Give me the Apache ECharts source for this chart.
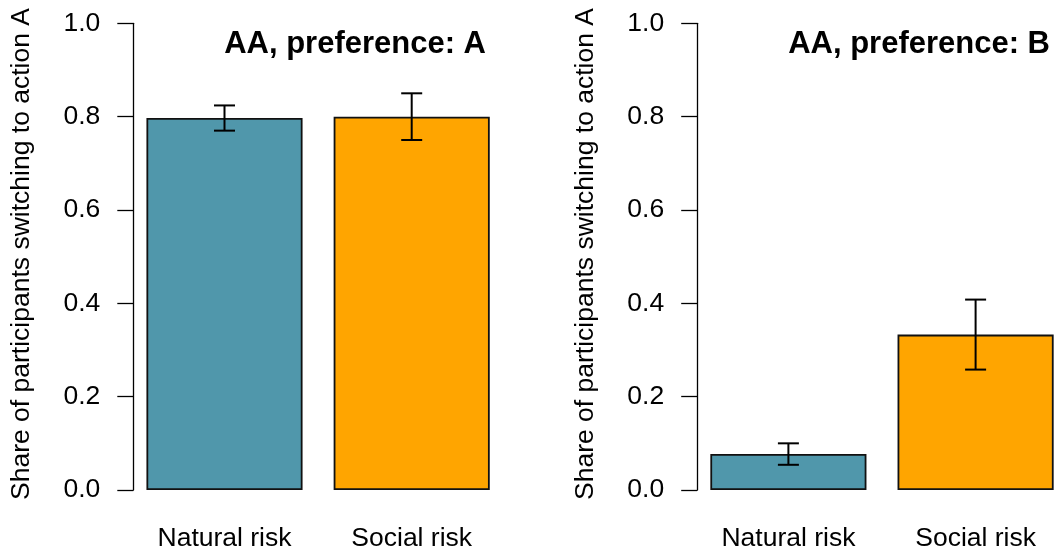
<!DOCTYPE html>
<html>
<head>
<meta charset="utf-8">
<script src="https://cdn.jsdelivr.net/npm/echarts@6/dist/echarts.min.js"></script>
<style>
html,body{margin:0;padding:0;background:#fff;overflow:hidden;width:1054px;height:552px;}
#c{width:1080px;height:552px;}
</style>
</head>
<body>
<div id="c"></div>
<script>
const categories = ['Natural risk', 'Social risk'];
const panelTitles = ['AA, preference: A', 'AA, preference: B'];
const yLabel = 'Share of participants switching to action A';
const valuesA = [0.797, 0.800];
const lowerA = [0.770, 0.750];
const upperA = [0.824, 0.850];
const valuesB = [0.077, 0.333];
const lowerB = [0.054, 0.258];
const upperB = [0.100, 0.408];
const barColors = ['#5097AB', '#FFA500'];
const yTicks = [0, 0.2, 0.4, 0.6, 0.8, 1.0];

const FONT = '"Liberation Sans", Arial, Helvetica, sans-serif';
const FS = 26.5;

const chart = echarts.init(document.getElementById('c'), null, {renderer: 'canvas'});

const grids = [
  {left: 130.9, top: 23.3, width: 374.4, height: 466.7},
  {left: 694.8, top: 23.3, width: 374.4, height: 466.7}
];

function xAxisFor(i) {
  return {
    type: 'category', gridIndex: i, data: categories,
    axisLine: {show: false}, axisTick: {show: false},
    axisLabel: {fontFamily: FONT, fontSize: FS, color: '#000', margin: 35}
  };
}
function yAxisFor(i) {
  return {
    type: 'value', gridIndex: i, min: yTicks[0], max: yTicks[yTicks.length - 1],
    interval: yTicks[1] - yTicks[0], offset: -2.4,
    splitLine: {show: false},
    axisLine: {show: true, lineStyle: {color: '#000', width: 1.3}},
    axisTick: {show: true, length: 16, lineStyle: {color: '#000', width: 1.3}},
    axisLabel: {fontFamily: FONT, fontSize: FS, color: '#000', margin: 33,
      formatter: v => v.toFixed(1)}
  };
}

function barSeries(i, vals) {
  return {
    type: 'bar', xAxisIndex: i, yAxisIndex: i, barWidth: '83.4%',
    data: vals.map((v, k) => ({value: v, itemStyle: {color: barColors[k]}})),
    itemStyle: {borderColor: '#111', borderWidth: 1.8},
    silent: true, animation: false
  };
}
function errSeries(i, lo, hi) {
  return {
    type: 'custom', xAxisIndex: i, yAxisIndex: i, z: 10, animation: false,
    data: lo.map((l, k) => [k, l, hi[k]]),
    renderItem: function (params, api) {
      const a = api.coord([api.value(0), api.value(1)]);
      const b = api.coord([api.value(0), api.value(2)]);
      const hw = 10.5;
      const st = {stroke: '#000', lineWidth: 2};
      return {type: 'group', children: [
        {type: 'line', shape: {x1: a[0], y1: a[1], x2: b[0], y2: b[1]}, style: st},
        {type: 'line', shape: {x1: a[0] - hw, y1: a[1], x2: a[0] + hw, y2: a[1]}, style: st},
        {type: 'line', shape: {x1: b[0] - hw, y1: b[1], x2: b[0] + hw, y2: b[1]}, style: st}
      ]};
    }
  };
}

const titleRight = [486, 1050];
const yLabelX = [22, 586];

const graphic = [];
for (let i = 0; i < 2; i++) {
  graphic.push({
    type: 'text', x: titleRight[i], y: 44,
    style: {text: panelTitles[i], fontFamily: FONT, fontSize: 31, fontWeight: 'bold',
      fill: '#000', align: 'right', verticalAlign: 'middle'}
  });
  graphic.push({
    type: 'text', x: yLabelX[i], y: 254, rotation: Math.PI / 2,
    style: {text: yLabel, fontFamily: FONT, fontSize: FS, fill: '#000',
      align: 'center', verticalAlign: 'middle'}
  });
}

chart.setOption({
  animation: false,
  backgroundColor: '#fff',
  grid: grids,
  xAxis: [xAxisFor(0), xAxisFor(1)],
  yAxis: [yAxisFor(0), yAxisFor(1)],
  series: [
    barSeries(0, valuesA), barSeries(1, valuesB),
    errSeries(0, lowerA, upperA), errSeries(1, lowerB, upperB)
  ],
  graphic: graphic
});
</script>
</body>
</html>
